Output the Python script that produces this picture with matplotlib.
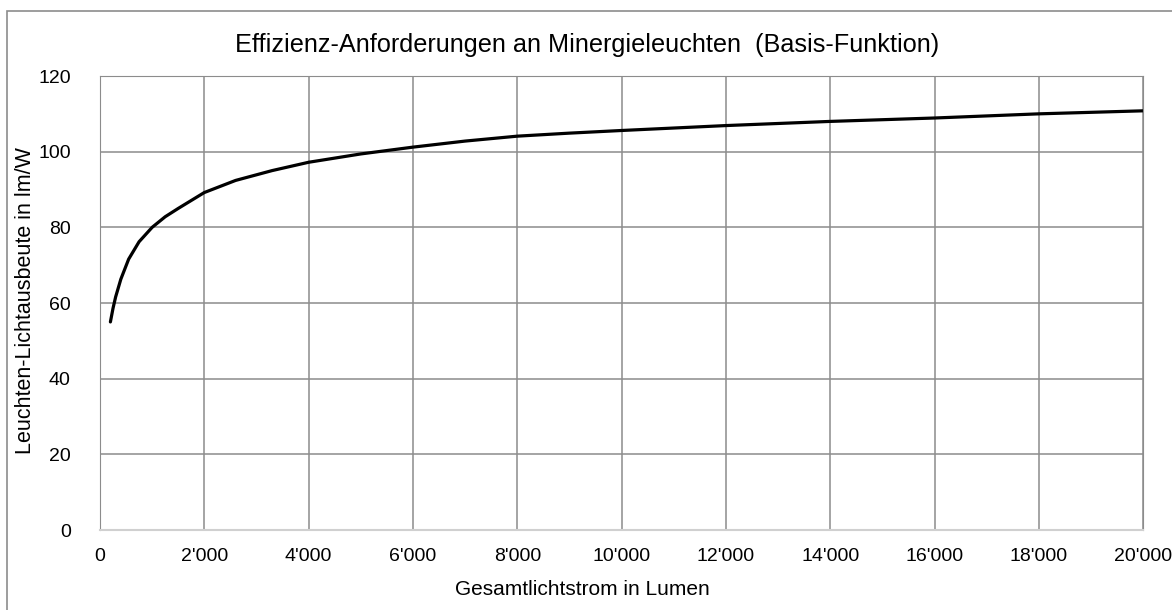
import matplotlib.pyplot as plt
from matplotlib.patches import Rectangle
from matplotlib.ticker import FuncFormatter, MultipleLocator

plt.rcParams['font.family'] = ['Liberation Sans', 'DejaVu Sans']

# Gesamtlichtstrom (lm) vs. Leuchten-Lichtausbeute (lm/W)
lumen = [200, 250, 300, 400, 550, 750, 1000, 1250, 1500, 2000, 2600, 3300, 4000,
         5000, 6000, 7000, 8000, 9000, 10000, 12000, 14000, 16000, 18000, 20000]
efficiency = [55.0, 58.6, 61.6, 66.3, 71.6, 76.2, 80.0, 82.8, 85.0, 89.2, 92.4, 95.0, 97.2,
              99.4, 101.2, 102.8, 104.1, 104.9, 105.6, 106.9, 108.0, 108.9, 110.0, 110.8]

fig = plt.figure(figsize=(11.72, 6.10), dpi=100)
ax = fig.add_axes([0.0853, 0.1311, 0.8901, 0.7443])

ax.plot(lumen, efficiency, color='black', linewidth=2.3, solid_capstyle='round',
        solid_joinstyle='round')

ax.set_xlim(0, 20000)
ax.set_ylim(0, 120)
ax.xaxis.set_major_locator(MultipleLocator(2000))
ax.yaxis.set_major_locator(MultipleLocator(20))
ax.xaxis.set_major_formatter(FuncFormatter(lambda v, p: f"{int(v):,}".replace(",", "'")))
ax.grid(True, color='#8c8c8c', linewidth=1.1)
ax.set_axisbelow(True)
ax.tick_params(length=0, labelsize=14, pad=13)
ax.tick_params(axis='y', pad=21)
for side in ['top', 'left', 'right']:
    ax.spines[side].set_color('#8c8c8c')
ax.spines['bottom'].set_color('#d0d0d0')
ax.spines['bottom'].set_linewidth(1.5)

fig.text(0.501, 0.926, 'Effizienz-Anforderungen an Minergieleuchten  (Basis-Funktion)',
         ha='center', va='center', fontsize=18.2)
fig.text(0.497, 0.033, 'Gesamtlichtstrom in Lumen', ha='center', va='center', fontsize=15)
fig.text(0.022, 0.508, 'Leuchten-Lichtausbeute in lm/W', ha='center', va='center',
         rotation=90, fontsize=15.5)

fig.patches.append(Rectangle((7 / 1172, -0.05), 1.2, (610 - 11) / 610 + 0.05,
                             transform=fig.transFigure, fill=False,
                             edgecolor='#8c8c8c', linewidth=1.2))

fig.savefig('out.png', dpi=100)
